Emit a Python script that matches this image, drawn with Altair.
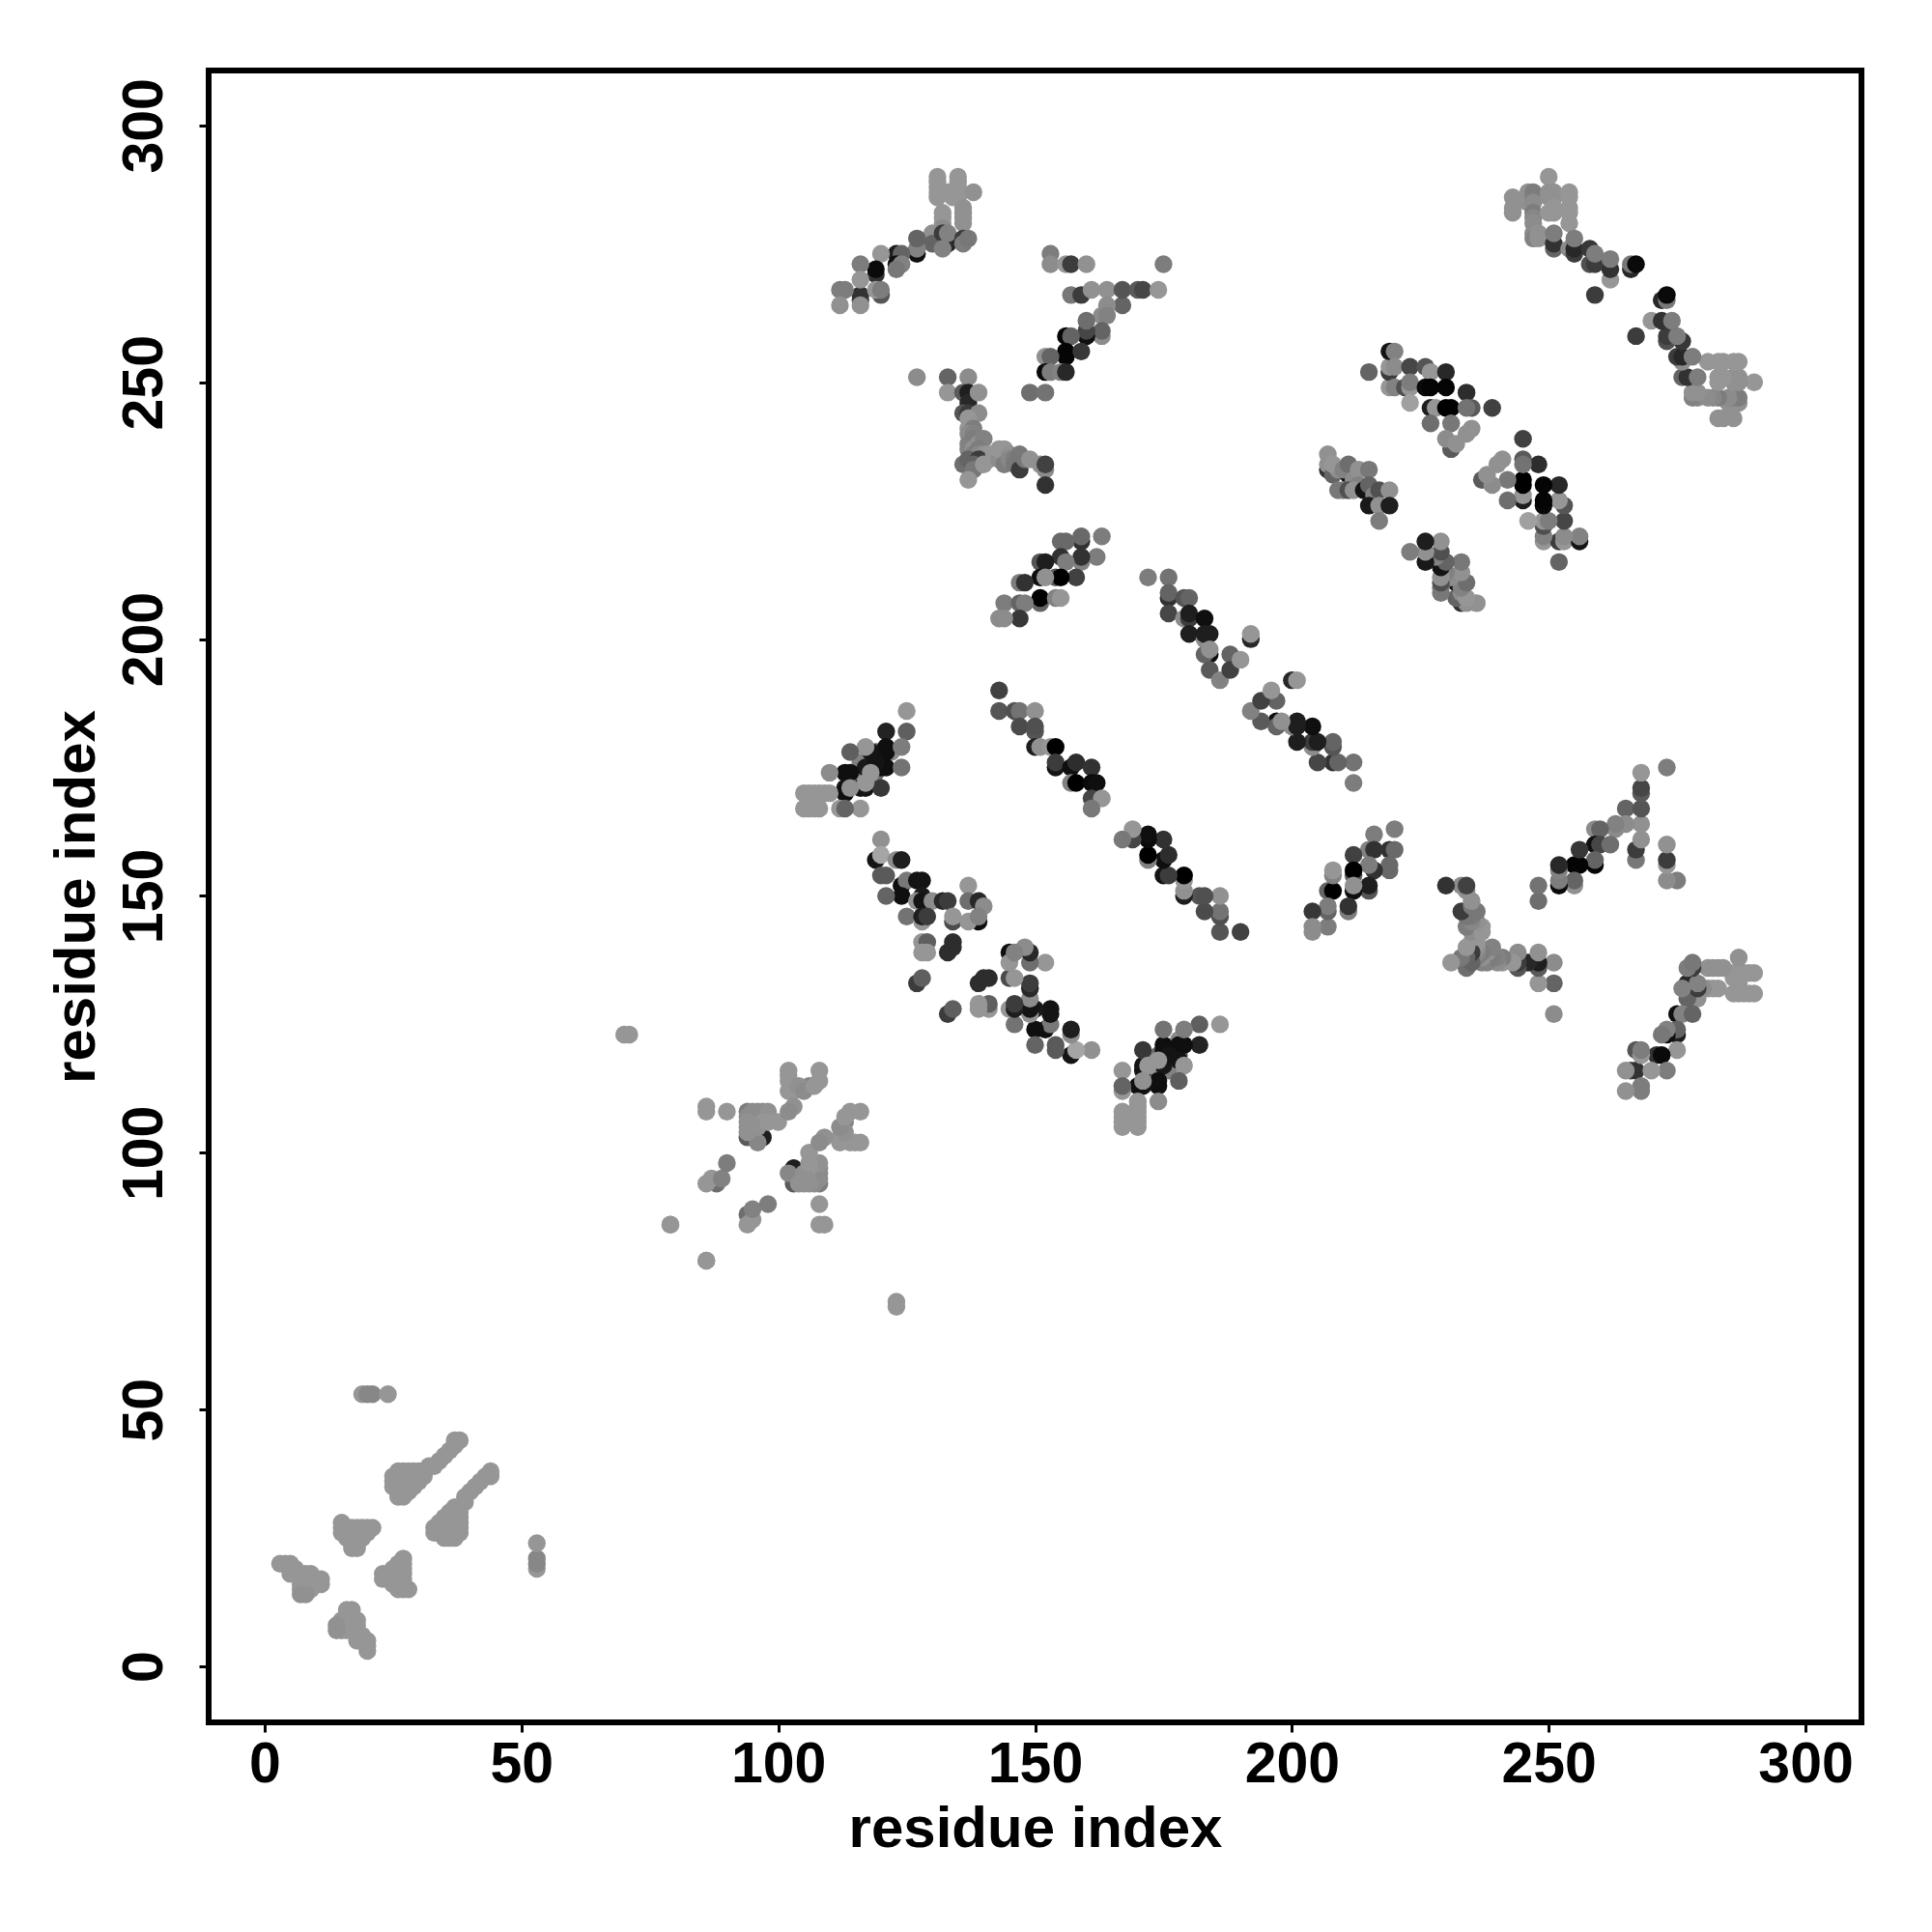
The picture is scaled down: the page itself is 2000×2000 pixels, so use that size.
import altair as alt
import pandas as pd

AXIS_TITLE = "residue index"
TICKS = [0, 50, 100, 150, 200, 250, 300]

# Contacts (i, j, grey level) for i < j; the map is symmetric and drawn both ways.
far_light = [(19,53,150),(20,53,135),(21,53,135),(24,53,150),(70,123,150),(71,123,150),(79,86,150),(86,79,150)]

helix_a = [(25,37,150),(26,38,150),(27,38,150),(28,38,150),(29,38,150),(30,38,150),(31,38,150),(25,36,150),(26,36,150),
 (27,36,150),(28,36,150),(29,36,150),(30,36,150),(31,37,150),(25,35,150),(26,35,150),(27,35,150),(28,35,150),(29,35,150),
 (26,34,150),(27,34,150),(28,34,150),(26,33,150),(27,33,150),(29,37,150),(32,39,150),(33,39,150),(34,40,150),(35,41,150),
 (36,42,150),(37,43,150),(37,44,150),(38,44,150)]
helix_b = [(18,24,120),(17,24,130),(17,23,150),(18,23,150),(15,28,150),(15,27,150),(15,26,150),(16,27,150),(17,27,150),(18,27,150),
 (19,27,150),(20,27,150),(21,27,150),(16,26,150),(17,26,150),(18,26,150),(19,26,150),(20,26,150),(16,25,150),
 (17,25,150),(18,25,150),(19,25,150)]
helix_c = [(3,20,150),(4,20,150),(5,20,150),(5,19,150),(6,19,150),(5,18,150),(6,18,150),(7,18,150),(8,18,150),(9,18,150),(7,17,150),
 (8,17,150),(9,17,150),(10,17,150),(11,17,150),(7,16,150),(8,16,150),(9,16,150),(10,16,150),(11,16,150),(7,15,150),(8,15,150),
 (9,15,150),(7,14,145),(8,14,145)]

sheet_a = [(94,103,90),(97,103,30),(96,102,135),(86,109,150),(86,108,150),(90,108,150),(94,108,125),(95,108,140),(96,108,140),(97,108,140),(98,108,145),
 (94,107,140),(94,106,145),(94,105,145),(94,104,145),(97,106,150),(96,105,145),(98,106,150),(100,106,150),(102,116,150),(102,115,150),
 (108,116,150),(108,114,150),(106,113,130),(102,114,150),(102,112,150),(103,112,150),(103,109,145),(102,108,140),(104,113,145),(105,112,140),
 (107,113,150),(88,94,110),(86,94,150),(87,95,150),(89,95,130),(90,98,125)]

block_a = [(115,174,120),(116,176,130),(119,174,110),(115,172,140),(118,172,130),(122,178,140),(119,178,90),
 (121,182,35),(121,179,15),(121,178,15),(118,178,20),(121,175,15),(120,175,15),(117,175,25),(113,174,15),(114,174,15),(119,176,20),
 (116,171,20),(117,171,20),(113,171,20),(113,170,15),(125,186,150),(125,182,95),(124,179,125),(117,179,150),(114,178,95),(124,175,115),
 (118,174,150),(110,174,140),(120,171,55),(117,172,150),(114,171,145),
 (116,167,150),(112,167,150),(113,167,100),(105,170,150),(106,170,150),
 (107,170,150),(108,170,150),(109,170,150),(110,170,150),(105,167,150),(106,167,150),(107,167,150),(108,167,150)]

band_a = [(119,157,20),(120,161,145),(120,158,165),(123,157,140),(124,157,30),(120,154,90),(121,154,90),(124,152,15),(125,153,120),
 (127,153,20),(128,153,20),(124,150,15),(121,150,100),(128,150,25),(127,149,145),(128,149,20),(130,149,140),(125,146,115),(128,145,150),
 (128,146,30),(129,146,60),(132,149,40),(133,149,60),(137,152,150),(137,149,110),(139,149,40),(139,145,15),(140,148,140),(134,145,75),
 (134,146,150),(137,145,150),(139,146,130),(128,141,150),(129,141,95),(128,139,150),(129,139,150),(133,139,45),(134,141,45),(134,140,45),
 (127,133,60),(128,134,95)]

band_b = [(143,190,65),(143,186,85),(146,186,80),(147,186,115),(150,186,145),(147,183,75),(150,182,85),(150,183,80),(150,179,30),(151,179,145),
 (153,179,150),(154,179,0),(154,175,20),(154,176,60),(157,175,15),(158,176,45),(161,175,50),(157,172,130),(158,172,0),(161,172,10),
 (162,172,15),(161,169,70),(163,169,150),(161,167,120)]

block_b = [(159,219,50),(159,220,105),(155,219,105),(156,219,105),(163,220,125),(162,216,125),(155,216,50),(159,215,130),(159,216,50),(156,215,125),
 (151,215,85),(152,215,30),(158,212,65),(154,212,90),(155,212,0),(151,207,100),(151,212,15),(152,212,145),(151,208,0),(154,208,130),(155,208,150),
 (147,211,125),(148,211,50),(144,207,125),(147,207,100),(148,207,125),(147,204,55),(143,204,140),(144,204,140)]

band_c = [(172,212,125),(176,212,115),(176,208,50),(176,209,100),(176,205,70),(179,208,85),(180,208,100),(179,204,140),(180,204,60),(180,205,30),
 (183,204,15),(180,201,30),(183,200,140),(183,201,30),(184,201,30),(184,197,15),(183,197,100),(184,198,145),(184,194,90),(186,192,130),
 (188,197,100),(188,194,65),(190,196,150),(192,200,40),(192,201,150)]

block_c = [(131,290,150),(131,289,150),(131,288,150),(131,287,150),(131,286,150),(135,290,150),(135,289,150),(135,288,150),(135,287,150),
 (135,286,150),(138,287,145),(134,286,150),(133,287,150),(136,284,145),
 (132,283,150),(132,282,150),(132,281,150),(132,280,140),(136,283,145),(136,282,145),(136,281,145),(130,279,145),(130,277,100),(133,277,40),(132,279,60),(133,279,130),
 (132,276,130),(136,278,60),(136,277,125),(137,278,120),(127,275,15),(127,276,130),(127,278,100),(123,275,30),(124,275,100),(123,273,15),(124,273,130),
 (123,272,120),(120,275,150),(119,271,50),(119,272,10),(116,266,70),(116,267,50),(116,273,125),(116,270,150),(116,265,145),(112,268,125),(113,268,125),
 (112,265,145),(120,267,85),(119,268,150),(120,268,125)]

block_d = [(153,275,125),(153,273,140),(156,273,150),(157,273,60),(160,273,145),(175,273,125),(157,267,120),(159,267,60),(161,268,145),(164,268,145),
 (167,265,100),(167,268,85),(170,268,90),(171,268,70),(174,268,150),(164,265,140),(163,263,140),(164,263,130),(163,259,140),(163,260,100),(160,259,15),
 (160,260,70),(160,262,110),(156,259,5),(157,259,100),(156,256,5),(156,255,5),(159,256,55),(152,255,145),(153,255,100),(152,252,10),(153,252,125),
 (155,252,130),(156,252,40),(149,248,110),(152,248,115)]

block_e = [(127,251,140),(133,251,100),(137,251,140),(133,248,150),(136,248,90),(137,248,30),(137,246,40),(139,248,145),(136,244,85),(137,244,60),
 (139,244,140),(137,243,150),(137,241,150),(138,241,125),(137,240,140),(138,240,130),(137,238,130),(138,239,125),(138,238,125),(139,238,145),(140,239,130),
 (137,237,130),(138,237,145),(138,236,130),(139,237,125),(139,236,135),(140,236,145),(141,236,150),(141,235,145),
 (136,234,110),(137,235,100),(139,235,60),(138,234,100),(138,233,120),(140,234,150),(142,236,150),(143,235,140),(143,237,150),(144,234,125),(144,237,150),
 (145,236,145),(145,235,135),(146,235,125),(146,234,120),(147,233,60),(147,236,120),(148,235,120),(149,235,145),(151,234,145),(152,233,140),(152,234,65),
 (152,230,50),(137,231,150)]

band_d = [(207,233,50),(207,236,145),(207,234,145),(208,233,150),(208,232,100),(209,233,140),(208,234,150),(211,232,20),(210,233,130),(211,234,110),(212,231,140),
 (213,233,145),(215,233,120),(213,230,130),(210,229,125),(209,229,120),(211,229,80),(212,229,145),(214,229,20),(215,229,20),(215,230,100),(216,228,130),(217,229,80),
 (219,229,145),(215,226,25),(217,226,145),(219,226,30),(217,223,125)]

band_e = [(215,252,100),(219,249,150),(219,252,60),(219,253,150),(219,256,20),(220,256,130),(220,253,140),(220,249,130),(222,249,80),(223,249,150),
 (223,253,70),(226,253,85),(223,250,125),(223,246,160),(227,252,150),(230,252,40),(226,249,10),(227,249,5),(230,249,5),(234,248,45),(239,245,65),
 (227,245,30),(228,245,150),(230,245,0),(231,245,0),(235,245,90),(234,245,115),(227,242,110),(231,242,120),(235,241,145),(234,240,145),
 (231,237,90),(230,239,140),(232,238,145)]

band_f = [(250,290,150),(243,286,145),(243,283,145),(243,284,145),(246,287,145),(246,285,145),(247,286,130),(247,287,125),(247,285,140),
 (250,287,145),(250,286,145),(251,287,145),(251,286,145),(251,284,150),(251,283,150),(254,287,150),(254,286,150),
 (254,284,150),(247,283,125),(247,282,135),(247,281,140),(247,279,140),(250,283,150),
 (254,283,150),(254,281,150),(247,278,130),(248,279,145),(248,278,145),(251,276,100),(251,277,50),(251,279,125),
 (254,276,140),(255,275,60),(255,276,40),(255,278,125),(258,276,55),(258,273,80),(259,273,60),(259,275,125),(262,270,150),(262,272,50),(262,274,125),
 (259,267,60),(266,272,40),(266,273,120),(267,273,10)]

rows = (far_light + helix_a + helix_b + helix_c + sheet_a + block_a + band_a + band_b + block_b
        + band_c + block_c + block_d + block_e + band_d + band_e + band_f)
contacts = pd.DataFrame(rows, columns=["i", "j", "grey"])

x_scale = alt.Scale(domain=[-10.9, 310.9], nice=False, zero=False)
y_scale = alt.Scale(domain=[-10.9, 310.7], nice=False, zero=False)
grey_scale = alt.Scale(domain=[0, 255], range=["#000000", "#ffffff"], interpolate="rgb")

x_axis = alt.Axis(title=AXIS_TITLE, values=TICKS, grid=False, domain=False, tickSize=10, tickWidth=3, tickColor="black",
                  labelFontSize=59, labelFont="Liberation Sans", labelFontWeight="bold", labelColor="black", labelPadding=4,
                  titleFontSize=60, titleFont="Liberation Sans", titleFontWeight="bold", titleColor="black", titlePadding=8,
                  labelFlush=False, labelOverlap=False)
y_axis = alt.Axis(title=AXIS_TITLE, values=TICKS, grid=False, domain=False, tickSize=10, tickWidth=3, tickColor="black",
                  labelFontSize=59, labelFont="Liberation Sans", labelFontWeight="bold", labelColor="black", labelAngle=270,
                  labelAlign="center", labelBaseline="bottom", labelPadding=27,
                  titleFontSize=60, titleFont="Liberation Sans", titleFontWeight="bold", titleColor="black", titlePadding=10,
                  labelFlush=False, labelOverlap=False)

base = alt.Chart(contacts).mark_circle(size=340, opacity=1, strokeWidth=0)
upper = base.encode(x=alt.X("i:Q", scale=x_scale, axis=x_axis), y=alt.Y("j:Q", scale=y_scale, axis=y_axis),
                    color=alt.Color("grey:Q", scale=grey_scale, legend=None))
lower = base.encode(x=alt.X("j:Q", scale=x_scale, axis=x_axis), y=alt.Y("i:Q", scale=y_scale, axis=y_axis),
                    color=alt.Color("grey:Q", scale=grey_scale, legend=None))

chart = (alt.layer(upper, lower)
         .properties(width=1711, height=1710, padding={"left": 208, "top": 65, "right": 40, "bottom": 200},
                     autosize=alt.AutoSizeParams(type="none"), background="white")
         .configure_view(stroke="black", strokeWidth=6))

chart.save("out.html", embed_options={"renderer": "svg", "actions": False})
